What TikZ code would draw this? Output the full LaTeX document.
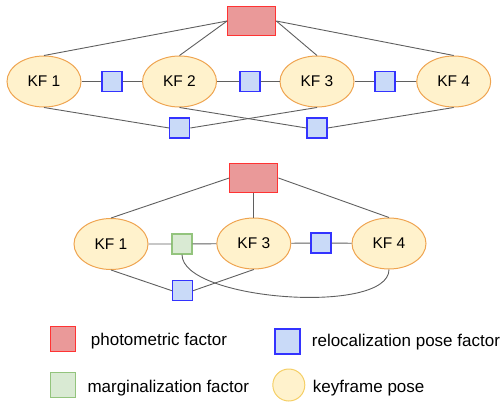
\documentclass[tikz,border=0pt]{standalone}
\usepackage{fontspec}
\setmainfont{Liberation Sans}
\usepackage{tikz}
\usetikzlibrary{shapes.geometric}
\usepackage{xcolor}
\definecolor{kffill}{HTML}{FFF2CC}
\definecolor{kfborder}{HTML}{EFA450}
\definecolor{kflegend}{HTML}{F5CF66}
\definecolor{photofill}{HTML}{EA9999}
\definecolor{photoborder}{HTML}{FF3333}
\definecolor{relocfill}{HTML}{C9DAF8}
\definecolor{relocborder}{HTML}{3333FF}
\definecolor{margfill}{HTML}{D9EAD3}
\definecolor{margborder}{HTML}{93C47D}
\definecolor{linkgray}{HTML}{5F5F5F}

\begin{document}
\begin{tikzpicture}[x=1pt, y=-1pt,
    kf/.style={ellipse, draw=kfborder, line width=1pt, fill=kffill, minimum width=74pt, minimum height=51pt, inner sep=0pt, font=\fontsize{15.5}{18}\selectfont},
    photo/.style={rectangle, draw=photoborder, line width=1.2pt, fill=photofill, minimum width=48pt, minimum height=29pt, inner sep=0pt},
    reloc/.style={rectangle, draw=relocborder, line width=1.2pt, fill=relocfill, minimum size=20pt, inner sep=0pt},
    marg/.style={rectangle, draw=margborder, line width=1.2pt, fill=margfill, minimum size=20pt, inner sep=0pt},
    link/.style={draw=linkgray, line width=0.9pt},
    lbl/.style={anchor=base west, inner sep=0pt, font=\fontsize{17}{20}\selectfont}
]
\useasboundingbox (0,0) rectangle (502,401);

% Top graph : four keyframes
\node[photo] (R) at (251.7,21) {};
\node[kf] (K1) at (44,81.5) {KF 1};
\node[kf] (K2) at (179.5,81.5) {KF 2};
\node[kf] (K3) at (317,81.5) {KF 3};
\node[kf] (K4) at (453.7,81.5) {KF 4};
\node[reloc] (P12) at (112,81.5) {};
\node[reloc] (P23) at (250,81.5) {};
\node[reloc] (P34) at (385,81.5) {};
\node[reloc] (P13) at (179.7,128) {};
\node[reloc] (P24) at (317,128) {};

\draw[link] (R.west) -- (K1.north);
\draw[link] (R.west) -- (K2.north);
\draw[link] (R.east) -- (K3.north);
\draw[link] (R.east) -- (K4.north);
\draw[link] (K1) -- (P12) -- (K2);
\draw[link] (K2) -- (P23) -- (K3);
\draw[link] (K3) -- (P34) -- (K4);
\draw[link] (K1.south) -- (P13.west);
\draw[link] (P13.east) -- (K3.south);
\draw[link] (K2.south) -- (P24.west);
\draw[link] (P24.east) -- (K4.south);

% Bottom graph : KF 2 marginalized
\node[photo] (Rb) at (253.8,178) {};
\node[kf] (K1b) at (111,244) {KF 1};
\node[kf] (K3b) at (253.8,243.5) {KF 3};
\node[kf] (K4b) at (389,243.5) {KF 4};
\node[marg] (M) at (182,244) {};
\node[reloc] (P34b) at (321,243) {};
\node[reloc] (P13b) at (182.5,290.7) {};

\draw[link] (Rb.west) -- (K1b.north);
\draw[link] (Rb) -- (K3b);
\draw[link] (Rb.east) -- (K4b.north);
\draw[link] (K1b) -- (M) -- (K3b);
\draw[link] (K3b) -- (P34b) -- (K4b);
\draw[link] (K1b.south) -- (P13b.west);
\draw[link] (P13b.east) -- (K3b.south);
\draw[link] (M.south) .. controls +(0,46) and +(0,46) .. (K4b.south);

% Legend
\node[photo, minimum width=25pt, minimum height=25pt] (LR) at (63.3,338.8) {};
\node[lbl] (LRt) at (90.7,345.5) {photometric factor};
\node[reloc, minimum size=25pt] (LP) at (287.5,341.5) {};
\node[lbl] (LPt) at (311.7,346) {relocalization pose factor};
\node[marg, minimum size=25pt] (LM) at (63.3,384.7) {};
\node[lbl] (LMt) at (87.3,392) {marginalization factor};
\node[circle, draw=kflegend, line width=1pt, fill=kffill, minimum size=32pt, inner sep=0pt] (LK) at (288.8,385) {};
\node[lbl] (LKt) at (312.7,392.5) {keyframe pose};
\end{tikzpicture}
\end{document}
